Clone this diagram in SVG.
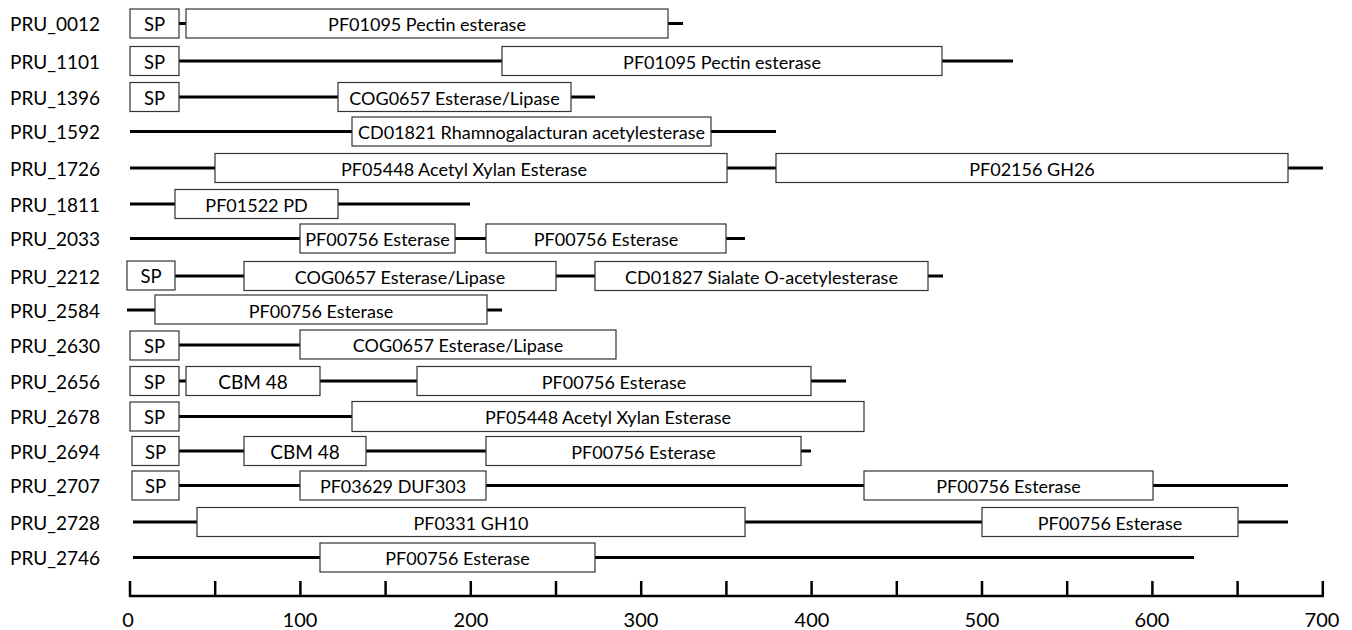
<svg xmlns="http://www.w3.org/2000/svg" width="1352" height="630" viewBox="0 0 1352 630">
<style>
.ln{stroke:#000;stroke-width:3;fill:none}
.bx{fill:#fff;stroke:#333;stroke-width:1.2}
.lbl{font-family:Lato,"Open Sans",sans-serif;font-size:19px;fill:#000;dominant-baseline:central}
.t{font-family:Lato,"Open Sans",sans-serif;font-size:18px;fill:#000;text-anchor:middle;dominant-baseline:central}
.sp{font-family:Lato,"Open Sans",sans-serif;font-size:18.5px;fill:#000;text-anchor:middle;dominant-baseline:central}
.cbm{font-family:Lato,"Open Sans",sans-serif;font-size:19px;fill:#000;text-anchor:middle;dominant-baseline:central}
.ax{font-family:Lato,"Open Sans",sans-serif;font-size:20px;fill:#000;text-anchor:middle;dominant-baseline:central}
.tk{stroke:#000;stroke-width:2.5}
</style>
<rect width="1352" height="630" fill="#fff"/>
<g id="connectors">
<line class="ln" x1="130" y1="23.5" x2="683" y2="23.5"/>
<line class="ln" x1="130" y1="61" x2="1013" y2="61"/>
<line class="ln" x1="130" y1="97" x2="595" y2="97"/>
<line class="ln" x1="130" y1="131.5" x2="776" y2="131.5"/>
<line class="ln" x1="130" y1="168" x2="1323" y2="168"/>
<line class="ln" x1="130" y1="204" x2="470" y2="204"/>
<line class="ln" x1="130" y1="238.5" x2="745" y2="238.5"/>
<line class="ln" x1="127" y1="276" x2="943" y2="276"/>
<line class="ln" x1="127" y1="310" x2="502" y2="310"/>
<line class="ln" x1="130" y1="345" x2="300" y2="345"/>
<line class="ln" x1="130" y1="381" x2="846" y2="381"/>
<line class="ln" x1="130" y1="416.5" x2="352" y2="416.5"/>
<line class="ln" x1="132" y1="451" x2="811" y2="451"/>
<line class="ln" x1="132" y1="485.5" x2="1288" y2="485.5"/>
<line class="ln" x1="133" y1="522" x2="1288" y2="522"/>
<line class="ln" x1="133" y1="557.5" x2="1194" y2="557.5"/>
</g>
<g id="PRU_0012">
<text class="lbl" x="10" y="23.5">PRU_0012</text>
<rect class="bx" x="130" y="9" width="49" height="29"/><text class="sp" x="154.5" y="24">SP</text>
<rect class="bx" x="186" y="9" width="482" height="29"/><text class="t" x="427" y="24">PF01095 Pectin esterase</text>
</g>
<g id="PRU_1101">
<text class="lbl" x="10" y="61">PRU_1101</text>
<rect class="bx" x="130" y="46.5" width="49" height="29"/><text class="sp" x="154.5" y="61.5">SP</text>
<rect class="bx" x="502" y="46.5" width="440" height="29"/><text class="t" x="722" y="61.5">PF01095 Pectin esterase</text>
</g>
<g id="PRU_1396">
<text class="lbl" x="10" y="97">PRU_1396</text>
<rect class="bx" x="130" y="82.5" width="49" height="29"/><text class="sp" x="154.5" y="97.5">SP</text>
<rect class="bx" x="338" y="82.5" width="233" height="29"/><text class="t" x="454.5" y="97.5">COG0657 Esterase/Lipase</text>
</g>
<g id="PRU_1592">
<text class="lbl" x="10" y="131.5">PRU_1592</text>
<rect class="bx" x="352" y="117" width="359" height="29"/><text class="t" x="531.5" y="132">CD01821 Rhamnogalacturan acetylesterase</text>
</g>
<g id="PRU_1726">
<text class="lbl" x="10" y="168">PRU_1726</text>
<rect class="bx" x="215" y="153.5" width="512" height="29"/><text class="t" x="464" y="168.5">PF05448 Acetyl Xylan Esterase</text>
<rect class="bx" x="776" y="153.5" width="512" height="29"/><text class="t" x="1032" y="168.5">PF02156 GH26</text>
</g>
<g id="PRU_1811">
<text class="lbl" x="10" y="204">PRU_1811</text>
<rect class="bx" x="175" y="189.5" width="163" height="29"/><text class="t" x="256.5" y="204.5">PF01522 PD</text>
</g>
<g id="PRU_2033">
<text class="lbl" x="10" y="238.5">PRU_2033</text>
<rect class="bx" x="300" y="224" width="155" height="29"/><text class="t" x="377.5" y="239">PF00756 Esterase</text>
<rect class="bx" x="486" y="224" width="240" height="29"/><text class="t" x="606" y="239">PF00756 Esterase</text>
</g>
<g id="PRU_2212">
<text class="lbl" x="10" y="276">PRU_2212</text>
<rect class="bx" x="127" y="261" width="48" height="29"/><text class="sp" x="151" y="276">SP</text>
<rect class="bx" x="244" y="261.5" width="312" height="29"/><text class="t" x="400" y="276.5">COG0657 Esterase/Lipase</text>
<rect class="bx" x="595" y="261.5" width="333" height="29"/><text class="t" x="761.5" y="276.5">CD01827 Sialate O-acetylesterase</text>
</g>
<g id="PRU_2584">
<text class="lbl" x="10" y="310">PRU_2584</text>
<rect class="bx" x="155" y="295" width="332" height="29"/><text class="t" x="321" y="311">PF00756 Esterase</text>
</g>
<g id="PRU_2630">
<text class="lbl" x="10" y="345">PRU_2630</text>
<rect class="bx" x="130" y="331" width="49" height="29"/><text class="sp" x="154.5" y="346">SP</text>
<rect class="bx" x="300" y="330" width="316" height="29"/><text class="t" x="458" y="345">COG0657 Esterase/Lipase</text>
</g>
<g id="PRU_2656">
<text class="lbl" x="10" y="381">PRU_2656</text>
<rect class="bx" x="130" y="366.5" width="49" height="29"/><text class="sp" x="154.5" y="381.5">SP</text>
<rect class="bx" x="186" y="366.5" width="134" height="29"/><text class="cbm" x="253" y="381">CBM 48</text>
<rect class="bx" x="417" y="366.5" width="394" height="29"/><text class="t" x="614" y="381.5">PF00756 Esterase</text>
</g>
<g id="PRU_2678">
<text class="lbl" x="10" y="416.5">PRU_2678</text>
<rect class="bx" x="130" y="402" width="49" height="29"/><text class="sp" x="154.5" y="417">SP</text>
<rect class="bx" x="352" y="401.5" width="512" height="30"/><text class="t" x="608" y="417">PF05448 Acetyl Xylan Esterase</text>
</g>
<g id="PRU_2694">
<text class="lbl" x="10" y="451">PRU_2694</text>
<rect class="bx" x="132" y="436.5" width="47" height="29"/><text class="sp" x="155.5" y="451.5">SP</text>
<rect class="bx" x="244" y="436.5" width="122" height="29"/><text class="cbm" x="305" y="451">CBM 48</text>
<rect class="bx" x="486" y="436.5" width="315" height="29"/><text class="t" x="643.5" y="452">PF00756 Esterase</text>
</g>
<g id="PRU_2707">
<text class="lbl" x="10" y="485.5">PRU_2707</text>
<rect class="bx" x="132" y="471" width="47" height="29"/><text class="sp" x="155.5" y="486">SP</text>
<rect class="bx" x="300" y="471" width="186" height="29"/><text class="t" x="393" y="486">PF03629 DUF303</text>
<rect class="bx" x="864" y="471" width="289" height="29"/><text class="t" x="1008.5" y="486">PF00756 Esterase</text>
</g>
<g id="PRU_2728">
<text class="lbl" x="10" y="522">PRU_2728</text>
<rect class="bx" x="197" y="507.5" width="548" height="29"/><text class="t" x="471" y="522.5">PF0331 GH10</text>
<rect class="bx" x="982" y="507.5" width="256" height="29"/><text class="t" x="1110" y="522.5">PF00756 Esterase</text>
</g>
<g id="PRU_2746">
<text class="lbl" x="10" y="557.5">PRU_2746</text>
<rect class="bx" x="320" y="543" width="275" height="29"/><text class="t" x="457.5" y="558">PF00756 Esterase</text>
</g>
<g id="axis">
<line class="tk" x1="129" y1="596" x2="1324" y2="596"/>
<line class="tk" x1="130" y1="581" x2="130" y2="597"/>
<line class="tk" x1="215.2" y1="581" x2="215.2" y2="597"/>
<line class="tk" x1="300.4" y1="581" x2="300.4" y2="597"/>
<line class="tk" x1="385.6" y1="581" x2="385.6" y2="597"/>
<line class="tk" x1="470.8" y1="581" x2="470.8" y2="597"/>
<line class="tk" x1="556" y1="581" x2="556" y2="597"/>
<line class="tk" x1="641.2" y1="581" x2="641.2" y2="597"/>
<line class="tk" x1="726.4" y1="581" x2="726.4" y2="597"/>
<line class="tk" x1="811.6" y1="581" x2="811.6" y2="597"/>
<line class="tk" x1="896.8" y1="581" x2="896.8" y2="597"/>
<line class="tk" x1="982" y1="581" x2="982" y2="597"/>
<line class="tk" x1="1067.2" y1="581" x2="1067.2" y2="597"/>
<line class="tk" x1="1152.4" y1="581" x2="1152.4" y2="597"/>
<line class="tk" x1="1237.6" y1="581" x2="1237.6" y2="597"/>
<line class="tk" x1="1322.8" y1="581" x2="1322.8" y2="597"/>
<text class="ax" x="128" y="619">0</text>
<text class="ax" x="300" y="619">100</text>
<text class="ax" x="471" y="619">200</text>
<text class="ax" x="641" y="619">300</text>
<text class="ax" x="812" y="619">400</text>
<text class="ax" x="982" y="619">500</text>
<text class="ax" x="1152" y="619">600</text>
<text class="ax" x="1322" y="619">700</text>
</g>
</svg>
